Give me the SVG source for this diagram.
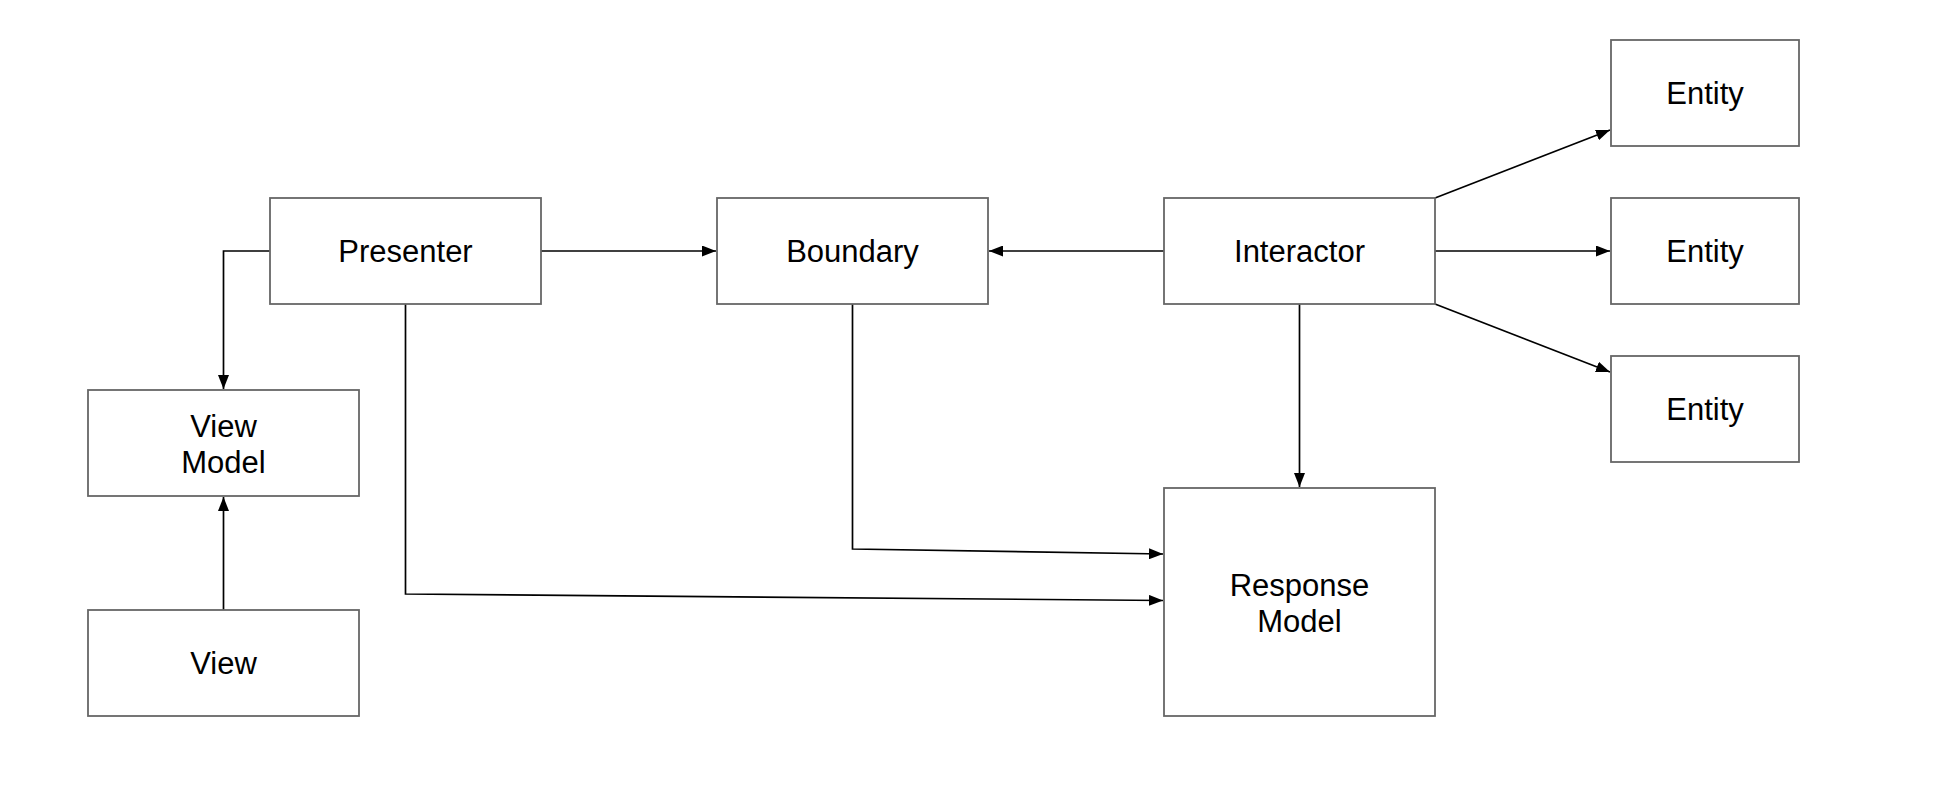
<svg xmlns="http://www.w3.org/2000/svg" width="1942" height="794" viewBox="0 0 1942 794">
  <style>
    .box { fill: #ffffff; stroke: #666666; stroke-width: 1.8; }
    .lbl { font-family: "Liberation Sans", Arial, Helvetica, sans-serif; font-size: 31px; fill: #000000; text-anchor: middle; }
    .edge { fill: none; stroke: #000000; stroke-width: 1.7; marker-end: url(#arrow); }
  </style>
  <defs>
    <marker id="arrow" viewBox="0 0 14 11" markerWidth="14" markerHeight="11" refX="14" refY="5.5" orient="auto" markerUnits="userSpaceOnUse">
      <path d="M0,0 L14,5.5 L0,11 Z" fill="#000000"/>
    </marker>
  </defs>
  <rect width="1942" height="794" fill="#ffffff"/>

  <g id="connectors">
    <path class="edge" d="M541,251 L716,251"/>
    <path class="edge" d="M1164,251 L989,251"/>
    <path class="edge" d="M270,251 L223.5,251 L223.5,389"/>
    <path class="edge" d="M223.5,610 L223.5,497"/>
    <path class="edge" d="M405.5,304 L405.5,594 L1163,600.5"/>
    <path class="edge" d="M852.5,304 L852.5,549 L1163,554"/>
    <path class="edge" d="M1299.5,304 L1299.5,487"/>
    <path class="edge" d="M1435,198 L1610,130"/>
    <path class="edge" d="M1435,251 L1610,251"/>
    <path class="edge" d="M1435,304 L1610,372"/>
  </g>

  <g id="presenter">
    <rect class="box" x="270" y="198" width="271" height="106"/>
    <text class="lbl" x="405.5" y="262">Presenter</text>
  </g>
  <g id="boundary">
    <rect class="box" x="717" y="198" width="271" height="106"/>
    <text class="lbl" x="852.5" y="262">Boundary</text>
  </g>
  <g id="interactor">
    <rect class="box" x="1164" y="198" width="271" height="106"/>
    <text class="lbl" x="1299.5" y="262">Interactor</text>
  </g>
  <g id="entity1">
    <rect class="box" x="1611" y="40" width="188" height="106"/>
    <text class="lbl" x="1705" y="104">Entity</text>
  </g>
  <g id="entity2">
    <rect class="box" x="1611" y="198" width="188" height="106"/>
    <text class="lbl" x="1705" y="262">Entity</text>
  </g>
  <g id="entity3">
    <rect class="box" x="1611" y="356" width="188" height="106"/>
    <text class="lbl" x="1705" y="420">Entity</text>
  </g>
  <g id="view-model">
    <rect class="box" x="88" y="390" width="271" height="106"/>
    <text class="lbl" x="223.5" y="437">View</text>
    <text class="lbl" x="223.5" y="473">Model</text>
  </g>
  <g id="view">
    <rect class="box" x="88" y="610" width="271" height="106"/>
    <text class="lbl" x="223.5" y="674">View</text>
  </g>
  <g id="response-model">
    <rect class="box" x="1164" y="488" width="271" height="228"/>
    <text class="lbl" x="1299.5" y="596">Response</text>
    <text class="lbl" x="1299.5" y="632">Model</text>
  </g>
</svg>
